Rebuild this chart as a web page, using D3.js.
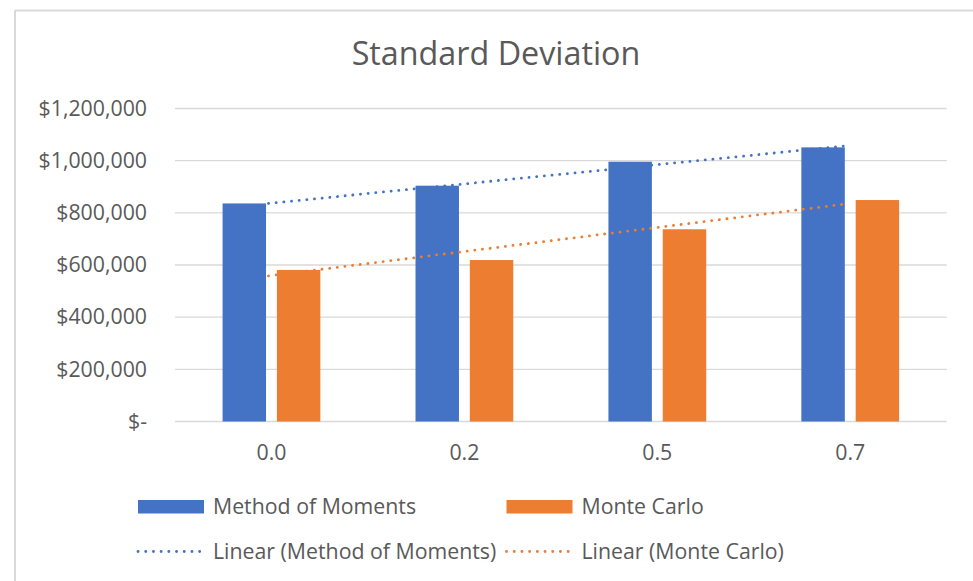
<!DOCTYPE html>
<html>
<head>
<meta charset="utf-8">
<script src="https://cdn.jsdelivr.net/npm/d3@7"></script>
<style>
  html, body { margin: 0; padding: 0; background: #fff; }
  svg { display: block; font-family: "Open Sans", "Noto Sans", sans-serif; }
</style>
</head>
<body>
<svg id="chart" width="973" height="581"></svg>
<script>
// Standard deviation estimates per correlation level
const categories = ["0.0", "0.2", "0.5", "0.7"];
const seriesNames = ["Method of Moments", "Monte Carlo"];
const methodOfMoments = [836000, 904000, 996000, 1051000];
const monteCarlo = [581000, 619000, 737000, 849000];
const yTicks = [0, 200000, 400000, 600000, 800000, 1000000, 1200000];
const title = "Standard Deviation";

const colors = { "Method of Moments": "#4472C4", "Monte Carlo": "#ED7D31" };
const valuesBySeries = { "Method of Moments": methodOfMoments, "Monte Carlo": monteCarlo };
const textColor = "#595959";
const labelSize = 21.3;

const svg = d3.select("#chart");

// Chart frame edges (top and left)
svg.append("line").attr("x1", 15).attr("x2", 973).attr("y1", 10.5).attr("y2", 10.5)
  .attr("stroke", "#d9d9d9").attr("stroke-width", 2);
svg.append("line").attr("x1", 15).attr("x2", 15).attr("y1", 10).attr("y2", 581)
  .attr("stroke", "#d9d9d9").attr("stroke-width", 2);

const plot = { left: 175, right: 946.7, top: 108.5, bottom: 421.5 };

const y = d3.scaleLinear().domain([0, 1200000]).range([plot.bottom, plot.top]);
const x0 = d3.scaleBand().domain(categories).range([plot.left, plot.right]).padding(0);
// gap width ~219%, overlap -25%
const x1 = d3.scaleBand().domain(seriesNames).range([0, x0.bandwidth()])
  .paddingInner(0.2).paddingOuter(0.876);

// Title
svg.append("text").attr("x", 496).attr("y", 65).attr("text-anchor", "middle")
  .attr("font-size", 32.3).attr("fill", textColor).text(title);

// Gridlines
svg.append("g").selectAll("line").data(yTicks).join("line")
  .attr("x1", plot.left).attr("x2", plot.right)
  .attr("y1", d => y(d)).attr("y2", d => y(d))
  .attr("stroke", "#d9d9d9").attr("stroke-width", 1.4);

// Y axis labels (accounting format)
const fmt = d => d === 0 ? "$-" : "$" + d3.format(",")(d);
const yAxis = d3.axisLeft(y).tickValues(yTicks).tickFormat(fmt).tickSize(0).tickPadding(0);
const gy = svg.append("g").attr("transform", `translate(147,0)`).call(yAxis);
gy.select(".domain").remove();
gy.selectAll("text").attr("font-size", labelSize).attr("fill", textColor)
  .attr("font-family", "'Open Sans', sans-serif");

// X axis labels
const xAxis = d3.axisBottom(x0).tickSize(0).tickPadding(0);
const gx = svg.append("g").attr("transform", `translate(0,445)`).call(xAxis);
gx.select(".domain").remove();
gx.selectAll("text").attr("font-size", labelSize).attr("fill", textColor)
  .attr("font-family", "'Open Sans', sans-serif");

// Bars
const groups = svg.append("g").selectAll("g").data(categories).join("g")
  .attr("transform", d => `translate(${x0(d)},0)`);
groups.selectAll("rect")
  .data((c, i) => seriesNames.map(s => ({ s, v: valuesBySeries[s][i] })))
  .join("rect")
  .attr("x", d => x1(d.s)).attr("width", x1.bandwidth())
  .attr("y", d => y(d.v)).attr("height", d => y(0) - y(d.v))
  .attr("fill", d => colors[d.s]);

// Linear trendlines (least squares over category index)
function linearFit(vals) {
  const xs = vals.map((_, i) => i + 1);
  const mx = d3.mean(xs), my = d3.mean(vals);
  const slope = d3.sum(xs, (xv, i) => (xv - mx) * (vals[i] - my)) / d3.sum(xs, xv => (xv - mx) ** 2);
  const icpt = my - slope * mx;
  return xs.map(xv => icpt + slope * xv);
}
const line = d3.line()
  .x((d, i) => x0(categories[i]) + x0.bandwidth() / 2 - 3)
  .y(d => y(d));
seriesNames.forEach(s => {
  svg.append("path").attr("d", line(linearFit(valuesBySeries[s])))
    .attr("fill", "none").attr("stroke", colors[s]).attr("stroke-width", 2.8)
    .attr("stroke-linecap", "round").attr("stroke-dasharray", "0.1 7.6");
});

// Legend
const legendItems = [
  { label: "Method of Moments", color: colors["Method of Moments"], type: "rect", x: 138, y: 506.5 },
  { label: "Monte Carlo", color: colors["Monte Carlo"], type: "rect", x: 506.5, y: 506.5 },
  { label: "Linear (Method of Moments)", color: colors["Method of Moments"], type: "dot", x: 138, y: 551.5 },
  { label: "Linear (Monte Carlo)", color: colors["Monte Carlo"], type: "dot", x: 506.5, y: 551.5 }
];
const lg = svg.append("g").selectAll("g").data(legendItems).join("g")
  .attr("transform", d => `translate(${d.x},${d.y})`);
lg.filter(d => d.type === "rect").append("rect")
  .attr("x", 0).attr("y", -6.5).attr("width", 66).attr("height", 13.5)
  .attr("fill", d => d.color);
lg.filter(d => d.type === "dot").append("line")
  .attr("x1", 0).attr("x2", 64).attr("y1", 0).attr("y2", 0)
  .attr("stroke", d => d.color).attr("stroke-width", 2.8)
  .attr("stroke-linecap", "round").attr("stroke-dasharray", "0.1 7.6");
lg.append("text").attr("x", 75).attr("y", 7.5).attr("font-size", labelSize)
  .attr("fill", textColor).text(d => d.label);
</script>
</body>
</html>
